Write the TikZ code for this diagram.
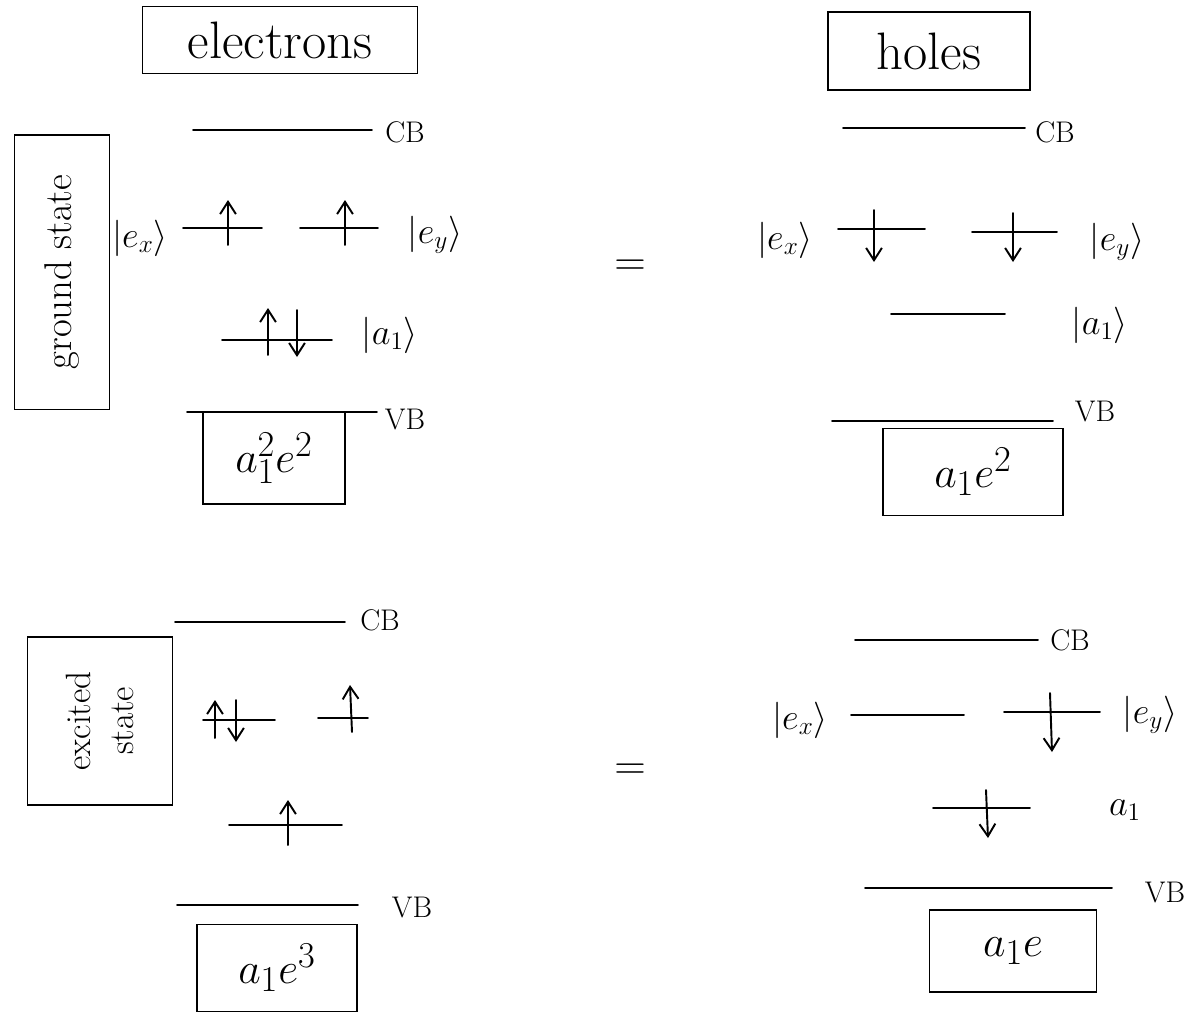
\documentclass[tikz,border=0pt]{standalone}
\usetikzlibrary{arrows.meta}
\begin{document}
\begin{tikzpicture}[x=0.02cm,y=-0.02cm,
  lev/.style={line width=1.1pt, line cap=round},
  spin/.style={line width=1.1pt, line cap=round, -{Straight Barb[length=7pt,width=9pt,line width=1.1pt]}},
  frame/.style={draw, line width=1.1pt, inner sep=0pt},
  head/.style={font=\fontsize{30}{34}\selectfont},
  side/.style={font=\fontsize{22}{26}\selectfont},
  band/.style={font=\fontsize{17}{20}\selectfont},
  ket/.style={font=\fontsize{20}{24}\selectfont},
  formula/.style={font=\fontsize{30}{34}\selectfont},
  eqs/.style={font=\fontsize{34}{38}\selectfont}]
\useasboundingbox (0,0) rectangle (1187,1019);

% ---------- headers ----------
\node[frame, head, minimum width=5.5cm, minimum height=1.34cm] (electrons) at (280,40) {electrons};
\node[frame, head, minimum width=4.04cm, minimum height=1.56cm] (holes) at (929,51) {holes};

% ---------- side labels ----------
\node[frame, side, rotate=90, minimum width=5.5cm, minimum height=1.9cm] (ground) at (62,272) {ground state};
\node[frame, rotate=90, minimum width=3.36cm, minimum height=2.9cm, align=center,
      font=\fontsize{20}{24}\selectfont] (excited) at (100,721) {excited\\state};

% ---------- equals ----------
\node[eqs] (eq1) at (630,268) {$=$};
\node[eqs] (eq2) at (630,772) {$=$};

% ===== ground state, electrons =====
\draw[lev] (193,130) -- (372,130);
\node[band] (cb1) at (405,132) {CB};
\draw[lev] (183,228) -- (262,228);
\draw[lev] (300,228) -- (378,228);
\draw[spin] (228,245) -- (228,200);
\draw[spin] (345,245) -- (345,200);
\node[ket] (ex1) at (140,238) {$|e_x\rangle$};
\node[ket] (ey1) at (435,235) {$|e_y\rangle$};
\draw[lev] (222,340) -- (332,340);
\draw[spin] (268,355) -- (268,308);
\draw[spin] (297,310) -- (297,357);
\node[ket] (a1a) at (390,335) {$|a_1\rangle$};
\draw[lev] (187,412) -- (377,412);
\node[band] (vb1) at (405,420) {VB};
\node[frame, formula, minimum width=2.84cm, minimum height=1.84cm] (f1) at (274,458) {$a^{2}_{1}e^{2}$};

% ===== ground state, holes =====
\draw[lev] (843,128) -- (1025,128);
\node[band] (cb2) at (1055,132) {CB};
\draw[lev] (838,229) -- (925,229);
\draw[lev] (972,232) -- (1057,232);
\draw[spin] (874,210) -- (874,262);
\draw[spin] (1013,213) -- (1013,262);
\node[ket] (ex2) at (785,240) {$|e_x\rangle$};
\node[ket] (ey2) at (1117,242) {$|e_y\rangle$};
\draw[lev] (891,314) -- (1005,314);
\node[ket] (a1b) at (1100,325) {$|a_1\rangle$};
\draw[lev] (832,421) -- (1053,421);
\node[band] (vb2) at (1095,412) {VB};
\node[frame, formula, minimum width=3.6cm, minimum height=1.74cm] (f2) at (973,472) {$a_1e^2$};

% ===== excited state, electrons =====
\draw[lev] (175,622) -- (345,622);
\node[band] (cb3) at (380,620) {CB};
\draw[lev] (203,720) -- (275,720);
\draw[spin] (215,738) -- (215,700);
\draw[spin] (236,700) -- (236,742);
\draw[lev] (318,718) -- (368,718);
\draw[spin] (352,732) -- (350,685);
\draw[lev] (229,825) -- (342,825);
\draw[spin] (288,845) -- (288,800);
\draw[lev] (177,905) -- (358,905);
\node[band] (vb3) at (412,908) {VB};
\node[frame, formula, minimum width=3.2cm, minimum height=1.74cm] (f3) at (277,968) {$a_1e^3$};

% ===== excited state, holes =====
\draw[lev] (855,640) -- (1038,640);
\node[band] (cb4) at (1070,640) {CB};
\draw[lev] (851,715) -- (964,715);
\node[ket] (ex3) at (800,720) {$|e_x\rangle$};
\draw[lev] (1004,712) -- (1100,712);
\draw[spin] (1050,693) -- (1052,752);
\node[ket] (ey3) at (1150,715) {$|e_y\rangle$};
\draw[lev] (933,808) -- (1030,808);
\draw[spin] (986,790) -- (988,838);
\node[ket] (a1c) at (1125,810) {$a_1$};
\draw[lev] (865,888) -- (1112,888);
\node[band] (vb4) at (1165,893) {VB};
\node[frame, formula, minimum width=3.34cm, minimum height=1.64cm] (f4) at (1013,951) {$a_1e$};
\end{tikzpicture}
\end{document}
